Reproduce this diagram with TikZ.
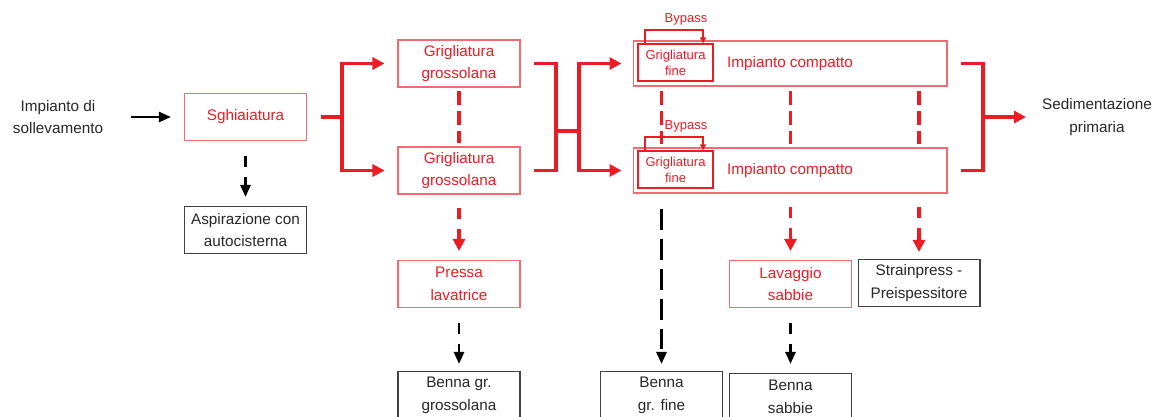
\documentclass[tikz,border=0pt]{standalone}
\usepackage{fontspec}
\setmainfont{Liberation Sans}
\usepackage{xcolor}
\usetikzlibrary{arrows.meta,calc}
\definecolor{flowred}{RGB}{236,28,36}
\tikzset{
  redblk/.style  ={draw=flowred!65, line width=0.6pt, rectangle, align=center, text=flowred, minimum width=2.44cm, minimum height=0.94cm, inner sep=1pt},
  blkblk/.style  ={draw=black!75, line width=0.6pt, rectangle, align=center, text=black!85, minimum width=2.44cm, minimum height=0.94cm, inner sep=1pt},
  wideblk/.style ={redblk, minimum width=6.28cm, minimum height=0.9cm},
  fineblk/.style ={draw=flowred, line width=0.6pt, rectangle, align=center, text=flowred, minimum width=1.5cm, minimum height=0.74cm, inner sep=0.5pt, font=\fontsize{7.4}{9}\selectfont},
  plain/.style   ={align=center, text=black!85},
  redline/.style ={draw=flowred, line width=1.9pt},
  redarr/.style  ={redline, -{Triangle[length=0.24cm, width=0.24cm]}},
  reddash/.style ={redline, dash pattern=on 0.28cm off 0.12cm},
  reddarr/.style ={redline, dash pattern=on 0.22cm off 0.2cm on 2cm off 0.2cm, -{Triangle[length=0.24cm, width=0.24cm]}},
  blkarr/.style  ={draw=black, line width=1.3pt, -{Triangle[length=0.24cm, width=0.2cm]}},
  blkdarr/.style ={blkarr, line width=1.5pt, dash pattern=on 0.22cm off 0.2cm on 2cm off 0.2cm},
  longdarr/.style={blkarr, line width=1.6pt, dash pattern=on 0.42cm off 0.18cm},
  bypass/.style  ={draw=flowred, line width=0.7pt, -{Triangle[length=0.12cm, width=0.12cm]}},
}

\begin{document}
\begin{tikzpicture}[x=0.02cm, y=-0.02cm, font=\fontsize{8.7}{13}\selectfont]
  \useasboundingbox (0,0) rectangle (1155,416);
  \clip (0,0) rectangle (1155,416);

  % Inlet and grit removal
  \node[plain]  (src)  at (58,117)    {Impianto di\\sollevamento};
  \node[redblk] (sgh)  at (245.5,117) {Sghiaiatura};
  \node[blkblk] (asp)  at (245.5,230) {Aspirazione con\\autocisterna};

  % Coarse screening line
  \node[redblk] (gg1)  at (459,63.5)  {Grigliatura\\grossolana};
  \node[redblk] (gg2)  at (459,170.5) {Grigliatura\\grossolana};
  \node[redblk] (pres) at (459,284)   {Pressa\\lavatrice};
  \node[blkblk] (bgg)  at (459,395)   {Benna gr.\\grossolana};

  % Compact units with fine screens inside
  \node[wideblk] (ic1) at (790,63.5)  {Impianto compatto};
  \node[wideblk] (ic2) at (790,170.5) {Impianto compatto};
  \node[fineblk] (gf1) at (675.5,62.5)  {Grigliatura\\fine};
  \node[fineblk] (gf2) at (675.5,169.5) {Grigliatura\\fine};
  \node[text=flowred, font=\fontsize{7.4}{9}\selectfont] (bp1) at (686,19)  {Bypass};
  \node[text=flowred, font=\fontsize{7.4}{9}\selectfont] (bp2) at (686,126) {Bypass};

  % Residues below the compact units
  \node[blkblk] (bgf)  at (661.5,395) {Benna\\gr. fine};
  \node[redblk] (lav)  at (790.5,284) {Lavaggio\\sabbie};
  \node[blkblk] (bsab) at (790.5,397) {Benna\\sabbie};
  \node[blkblk] (strp) at (919,283)   {Strainpress -\\Preispessitore};
  \node[plain]  (sed)  at (1097,117)  {Sedimentazione\\primaria};

  % Junction points
  \coordinate (j1) at (342,117);
  \coordinate (j2) at (556,131);
  \coordinate (j3) at (579,131);
  \coordinate (j4) at (983,117);
  \coordinate (bl1) at (645,30);
  \coordinate (br1) at (703,30);
  \coordinate (bl2) at (645,137);
  \coordinate (br2) at (703,137);

  % Main flow
  \draw[blkarr, shorten <=0.44cm, shorten >=0.26cm] (src) -- (sgh);
  \draw[redline, shorten <=0.28cm] (sgh) -- (j1);
  \draw[redarr, shorten >=0.26cm] (j1) |- (gg1);
  \draw[redarr, shorten >=0.26cm] (j1) |- (gg2);
  \draw[redline] ([xshift=0.26cm]gg1.east) -| (j2) |- ([xshift=0.26cm]gg2.east);
  \draw[redline] (j2) -- (j3);
  \draw[redarr, shorten >=0.22cm] (j3) |- (ic1);
  \draw[redarr, shorten >=0.22cm] (j3) |- (ic2);
  \draw[redline] ([xshift=0.26cm]ic1.east) -| (j4) |- ([xshift=0.26cm]ic2.east);
  \draw[redarr, shorten >=0.2cm] (j4) -- (sed);

  % Bypass of the fine screens
  \draw[bypass] (bl1 |- gf1.north) -- (bl1) -- (br1) -- (br1 |- gf1.north);
  \draw[bypass] (bl2 |- gf2.north) -- (bl2) -- (br2) -- (br2 |- gf2.north);

  % Links between the parallel lines
  \draw[reddash, shorten <=0.06cm, shorten >=0.06cm] (gg1) -- (gg2);
  \foreach \n in {bgf,lav,strp}
    \draw[reddash, shorten <=0.08cm, shorten >=0.06cm] (ic1.south -| \n) -- (ic2.north -| \n);

  % Residue outlets
  \draw[blkdarr, shorten <=0.3cm, shorten >=0.18cm] (sgh) -- (asp);
  \draw[reddarr, shorten <=0.27cm, shorten >=0.18cm] (gg2) -- (pres);
  \draw[blkdarr, shorten <=0.3cm, shorten >=0.14cm] (pres) -- (bgg);
  \draw[longdarr, shorten <=0.3cm, shorten >=0.14cm] (ic2.south -| bgf) -- (bgf);
  \draw[reddarr, shorten <=0.27cm, shorten >=0.18cm] (ic2.south -| lav) -- (lav);
  \draw[blkdarr, shorten <=0.3cm, shorten >=0.18cm] (lav) -- (bsab);
  \draw[reddarr, shorten <=0.27cm, shorten >=0.14cm] (ic2.south -| strp) -- (strp);
\end{tikzpicture}
\end{document}
